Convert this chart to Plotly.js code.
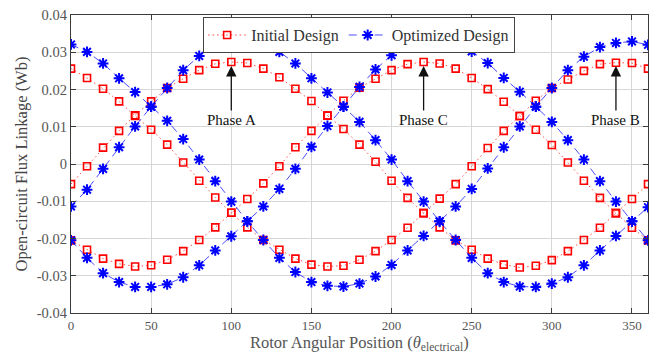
<!DOCTYPE html>
<html>
<head>
<meta charset="utf-8">
<script src="https://cdn.plot.ly/plotly-3.0.1.min.js"></script>
<style>
  html, body { margin: 0; padding: 0; background: #ffffff; }
  #chart { width: 651px; height: 358px; }
</style>
</head>
<body>
<div id="chart"></div>
<script>
// Rotor angle (electrical degrees)
const angle = [0, 10, 20, 30, 40, 50, 60, 70, 80, 90, 100, 110, 120, 130, 140, 150, 160, 170, 180,
               190, 200, 210, 220, 230, 240, 250, 260, 270, 280, 290, 300, 310, 320, 330, 340, 350, 360];

// Open-circuit flux linkage (Wb), initial design
const initialA = [-0.0054, -0.0006, 0.0044, 0.0089, 0.0131, 0.0168, 0.0204, 0.0229, 0.0252, 0.0269,
                  0.0274, 0.0271, 0.0256, 0.0233, 0.0202, 0.0169, 0.0130, 0.0094, 0.0052, 0.0006,
                  -0.0045, -0.0091, -0.0132, -0.0170, -0.0205, -0.0230, -0.0254, -0.0270, -0.0278, -0.0273,
                  -0.0258, -0.0234, -0.0204, -0.0171, -0.0132, -0.0094, -0.0054];
const initialB = [0.0256, 0.0231, 0.0202, 0.0168, 0.0129, 0.0092, 0.0052, 0.0004, -0.0045, -0.0090,
                  -0.0131, -0.0170, -0.0204, -0.0230, -0.0254, -0.0270, -0.0275, -0.0273, -0.0257, -0.0234,
                  -0.0204, -0.0171, -0.0132, -0.0093, -0.0054, -0.0006, 0.0043, 0.0089, 0.0129, 0.0170,
                  0.0204, 0.0227, 0.0250, 0.0268, 0.0272, 0.0271, 0.0256];
const initialC = [-0.0205, -0.0230, -0.0254, -0.0268, -0.0275, -0.0272, -0.0257, -0.0234, -0.0204, -0.0170,
                  -0.0131, -0.0094, -0.0052, -0.0006, 0.0045, 0.0089, 0.0130, 0.0170, 0.0205, 0.0229,
                  0.0252, 0.0268, 0.0274, 0.0270, 0.0256, 0.0231, 0.0201, 0.0167, 0.0129, 0.0092,
                  0.0051, 0.0004, -0.0045, -0.0091, -0.0132, -0.0171, -0.0205];

// Open-circuit flux linkage (Wb), optimized design
const optimizedA = [-0.0114, -0.0069, -0.0013, 0.0045, 0.0101, 0.0154, 0.0204, 0.0252, 0.0290, 0.0316,
                    0.0326, 0.0330, 0.0321, 0.0301, 0.0270, 0.0230, 0.0192, 0.0154, 0.0113, 0.0064,
                    0.0012, -0.0046, -0.0101, -0.0154, -0.0204, -0.0252, -0.0293, -0.0317, -0.0329, -0.0330,
                    -0.0321, -0.0304, -0.0272, -0.0232, -0.0193, -0.0154, -0.0116];
const optimizedB = [0.0321, 0.0301, 0.0270, 0.0230, 0.0193, 0.0154, 0.0116, 0.0067, 0.0012, -0.0046,
                    -0.0101, -0.0154, -0.0204, -0.0252, -0.0290, -0.0317, -0.0327, -0.0329, -0.0321, -0.0302,
                    -0.0271, -0.0232, -0.0193, -0.0154, -0.0114, -0.0067, -0.0012, 0.0045, 0.0101, 0.0154,
                    0.0204, 0.0252, 0.0288, 0.0314, 0.0325, 0.0329, 0.0320];
const optimizedC = [-0.0205, -0.0252, -0.0293, -0.0317, -0.0330, -0.0330, -0.0323, -0.0304, -0.0272, -0.0232,
                    -0.0194, -0.0154, -0.0114, -0.0067, -0.0013, 0.0046, 0.0102, 0.0154, 0.0207, 0.0254,
                    0.0292, 0.0316, 0.0328, 0.0329, 0.0323, 0.0302, 0.0271, 0.0231, 0.0194, 0.0154,
                    0.0113, 0.0064, 0.0012, -0.0046, -0.0101, -0.0154, -0.0205];

// Axis ticks
const xTickVals = [0, 50, 100, 150, 200, 250, 300, 350];
const yTickVals = [-0.04, -0.03, -0.02, -0.01, 0, 0.01, 0.02, 0.03, 0.04];
const yTickText = ['-0.04', '-0.03', '-0.02', '-0.01', '0', '0.01', '0.02', '0.03', '0.04'];

// Phase peak markers
const phaseNames = ['Phase A', 'Phase C', 'Phase B'];
const phaseAngles = [100, 220, 340];

const serif = 'Liberation Serif, Times New Roman, serif';

const initialStyle = {
  mode: 'lines+markers',
  line: { color: 'rgba(255,0,0,0.7)', width: 1, dash: '1.5px,3px' },
  marker: { symbol: 'square-open', size: 7, color: '#ff0000', line: { width: 1.6, color: '#ff0000' } }
};
const optimizedStyle = {
  mode: 'lines+markers',
  line: { color: 'rgba(0,0,255,0.7)', width: 1, dash: '8px,5px' },
  marker: { symbol: 'asterisk-open', size: 9, color: '#0000ff', line: { width: 2, color: '#0000ff' } }
};

const traces = [];
[initialA, initialB, initialC].forEach((ys, i) => {
  traces.push(Object.assign({
    x: angle, y: ys, type: 'scatter', name: 'Initial Design',
    legendgroup: 'initial', showlegend: i === 0
  }, initialStyle));
});
[optimizedA, optimizedB, optimizedC].forEach((ys, i) => {
  traces.push(Object.assign({
    x: angle, y: ys, type: 'scatter', name: 'Optimized Design',
    legendgroup: 'optimized', showlegend: i === 0
  }, optimizedStyle));
});

const annotations = phaseNames.map((name, i) => ({
  x: phaseAngles[i], y: 0.0263,
  ax: phaseAngles[i], ay: 0.0118,
  xref: 'x', yref: 'y', axref: 'x', ayref: 'y',
  text: name,
  showarrow: true,
  arrowhead: 2, arrowsize: 1.6, arrowwidth: 1.3, arrowcolor: '#111111',
  standoff: 0,
  font: { family: serif, size: 15, color: '#111111' }
}));

// Horizontal axis caption, placed just under the tick labels
annotations.push({
  xref: 'paper', yref: 'paper', x: 0.5, y: -0.062,
  xanchor: 'center', yanchor: 'top',
  showarrow: false,
  text: 'Rotor Angular Position (<i>θ</i><sub>electrical</sub>)',
  font: { family: serif, size: 16.5, color: '#555555' }
});

const axisCommon = {
  showline: true, linecolor: '#3a3a3a', linewidth: 1.2, mirror: 'ticks',
  ticks: 'inside', ticklen: 5, tickcolor: '#3a3a3a', tickwidth: 1,
  showgrid: true, gridcolor: '#d6d6d6', gridwidth: 1,
  zeroline: false
};

const layout = {
  width: 651, height: 358,
  margin: { l: 71, r: 3, t: 15, b: 45 },
  paper_bgcolor: '#ffffff', plot_bgcolor: '#ffffff',
  font: { family: serif },
  showlegend: true,
  legend: {
    orientation: 'h', x: 0.229, y: 0.993, xanchor: 'left', yanchor: 'top',
    bgcolor: '#ffffff', bordercolor: '#444444', borderwidth: 1,
    font: { family: serif, size: 16, color: '#333333' },
    itemwidth: 38,
    tracegroupgap: 0
  },
  xaxis: Object.assign({}, axisCommon, {
    range: [0, 360], tickvals: xTickVals,
    tickfont: { family: serif, size: 13, color: '#555555' }
  }),
  yaxis: Object.assign({}, axisCommon, {
    range: [-0.04, 0.04], tickvals: yTickVals, ticktext: yTickText,
    tickfont: { family: serif, size: 14.5, color: '#555555' },
    title: { text: 'Open-circuit Flux Linkage (Wb)', standoff: 5,
             font: { family: serif, size: 16.5, color: '#444444' } }
  }),
  annotations: annotations
};

Plotly.newPlot('chart', traces, layout, { displayModeBar: false, staticPlot: true });
</script>
</body>
</html>
